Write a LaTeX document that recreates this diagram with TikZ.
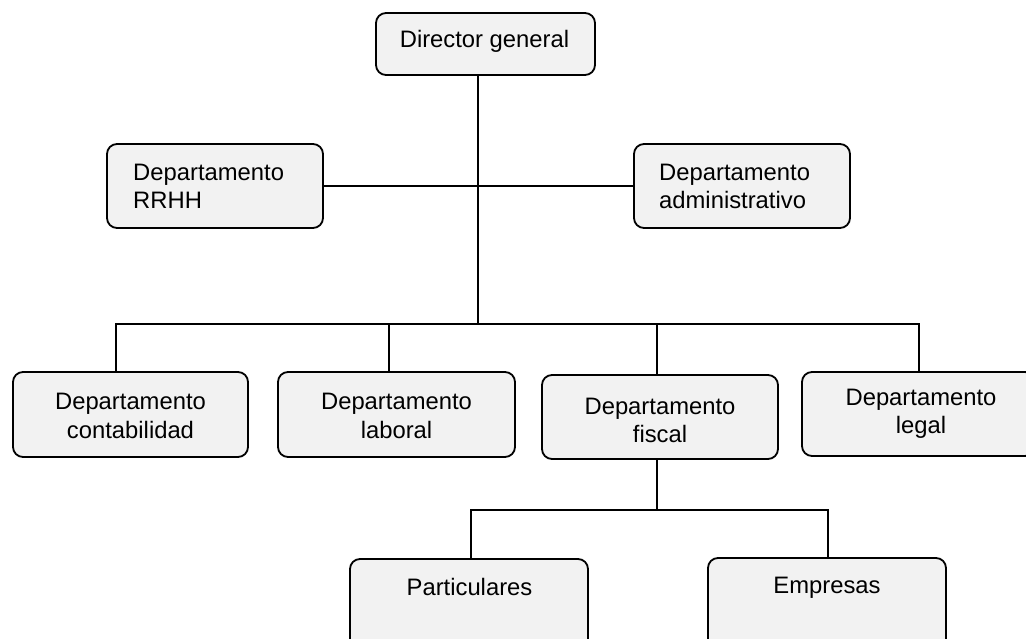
\documentclass[tikz,border=0pt]{standalone}
\usepackage{fontspec}
\setmainfont{Liberation Sans}
\definecolor{boxgray}{HTML}{F2F2F2}
\tikzset{
  box/.style={draw=black, line width=1.8pt, fill=boxgray, rounded corners=10pt, inner sep=0pt},
  lbl/.style={inner sep=0pt, font=\fontsize{23.8}{28}\selectfont},
  conn/.style={line width=1.8pt}
}
\begin{document}
\begin{tikzpicture}[x=1pt,y=-1pt]
\useasboundingbox (0,0) rectangle (1026,638);
\clip (0,0) rectangle (1026,638);
% boxes
\node[box, minimum width=219, minimum height=62] (dir) at (485.5,44) {};
\node[box, minimum width=216, minimum height=84] (rrhh) at (215,186) {};
\node[box, minimum width=216, minimum height=84] (adm) at (742,186) {};
\node[box, minimum width=235, minimum height=85] (cont) at (130.5,414.5) {};
\node[box, minimum width=237, minimum height=85] (lab) at (396.5,414.5) {};
\node[box, minimum width=236, minimum height=84] (fis) at (660,417) {};
\node[box, minimum width=233, minimum height=84] (leg) at (918.5,414) {};
\node[box, minimum width=238, minimum height=92] (part) at (469,605) {};
\node[box, minimum width=238, minimum height=92] (emp) at (827,604) {};
% texts
\node[lbl, anchor=base] (dir-t) at (484.5,47) {Director general};
\node[lbl, anchor=base west] (rrhh-t1) at (133,180) {Departamento};
\node[lbl, anchor=base west] (rrhh-t2) at (133,208) {RRHH};
\node[lbl, anchor=base west] (adm-t1) at (659,180) {Departamento};
\node[lbl, anchor=base west] (adm-t2) at (659,208) {administrativo};
\node[lbl, anchor=base] (cont-t1) at (130.5,409) {Departamento};
\node[lbl, anchor=base] (cont-t2) at (130.5,438) {contabilidad};
\node[lbl, anchor=base] (lab-t1) at (396.5,409) {Departamento};
\node[lbl, anchor=base] (lab-t2) at (396.5,438) {laboral};
\node[lbl, anchor=base] (fis-t1) at (660,414) {Departamento};
\node[lbl, anchor=base] (fis-t2) at (660,442) {fiscal};
\node[lbl, anchor=base] (leg-t1) at (921,405) {Departamento};
\node[lbl, anchor=base] (leg-t2) at (921,433) {legal};
\node[lbl, anchor=base] (part-t) at (469.5,595) {Particulares};
\node[lbl, anchor=base] (emp-t) at (827,593) {Empresas};
% connectors
\coordinate (j1) at (478,324);
\coordinate (hl) at (116,324);
\coordinate (hr) at (919,324);
\coordinate (d2) at (389,324);
\coordinate (d3) at (657,324);
\coordinate (j2) at (657,510);
\coordinate (pl) at (471,510);
\coordinate (pr) at (828,510);
\draw[conn] (dir.south -| j1) -- (j1);
\draw[conn] (rrhh.east) -- (adm.west);
\draw[conn] (hl |- cont.north) -- (hl) -- (hr) -- (hr |- leg.north);
\draw[conn] (d2) -- (d2 |- lab.north);
\draw[conn] (d3) -- (d3 |- fis.north);
\draw[conn] (fis.south -| j2) -- (j2);
\draw[conn] (pl |- part.north) -- (pl) -- (pr) -- (pr |- emp.north);
\end{tikzpicture}
\end{document}
